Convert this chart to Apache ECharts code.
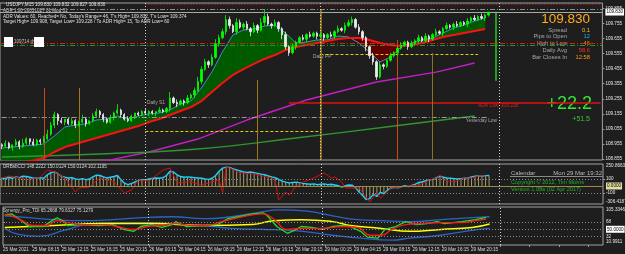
<!DOCTYPE html>
<html>
<head>
<meta charset="utf-8">
<title>USDJPY M15</title>
<script src="https://cdn.jsdelivr.net/npm/echarts@6/dist/echarts.min.js"></script>
<style>
  html, body { margin: 0; padding: 0; background: #1e1e1e; }
  #main { width: 625px; height: 254px; }
</style>
</head>
<body>
<div id="main"></div>
<script>
// K线收盘价
const closes = [
  108.94, 108.96, 108.93, 108.95, 108.97, 108.94, 108.96, 108.99, 108.97, 108.95,
  108.98, 108.97, 108.99, 109.02, 109.08, 109.15, 109.11, 109.10, 109.12, 109.09,
  109.11, 109.08, 109.10, 109.12, 109.09, 109.11, 109.14, 109.17, 109.15, 109.12,
  109.10, 109.13, 109.16, 109.18, 109.15, 109.12, 109.11, 109.14, 109.16, 109.15,
  109.17, 109.16, 109.17, 109.16, 109.17, 109.18, 109.17, 109.19, 109.26, 109.23,
  109.22, 109.24, 109.23, 109.26, 109.28, 109.31, 109.37, 109.45, 109.50, 109.48,
  109.53, 109.62, 109.66, 109.70, 109.78, 109.74, 109.70, 109.76, 109.73, 109.75,
  109.72, 109.70, 109.74, 109.71, 109.76, 109.80, 109.75, 109.74, 109.76, 109.72,
  109.68, 109.60, 109.56, 109.60, 109.63, 109.66, 109.65, 109.68, 109.67, 109.69,
  109.67, 109.68, 109.66, 109.68, 109.67, 109.70, 109.72, 109.71, 109.74, 109.76,
  109.78, 109.73, 109.70, 109.66, 109.60, 109.54, 109.50, 109.40, 109.48, 109.47,
  109.51, 109.54, 109.56, 109.59, 109.61, 109.63, 109.60, 109.62, 109.64, 109.66,
  109.64, 109.67, 109.65, 109.68, 109.70, 109.69, 109.72, 109.74, 109.73, 109.75,
  109.74, 109.76, 109.75, 109.77, 109.79, 109.78, 109.80, 109.79, 109.81, 109.83
]
const firstOpen = 108.95
// 上下影线（点）
const wickUp = [
  1,2,1,0,2,1,3,1,0,2, 1,1,2,3,2,2,1,2,0,1, 2,1,1,3,1,0,2,2,1,1, 1,2,1,4,1,1,2,1,0,1,
  1,2,1,1,0,2,1,1,4,1, 2,1,1,2,1,2,3,2,2,1, 2,3,2,2,3,2,1,3,2,1, 2,1,2,1,3,5,2,1,2,1,
  1,2,1,2,1,1,2,1,2,1, 1,2,1,1,2,1,2,1,2,2, 2,1,2,1,1,1,2,1,2,1, 1,2,1,1,2,1,1,2,1,2,
  1,2,1,1,2,1,1,2,1,1, 2,1,1,2,1,2,1,2,1,0
]
const wickDn = [
  2,1,1,2,1,2,1,1,2,1, 1,2,1,1,1,2,3,1,2,1, 1,2,1,1,2,1,1,1,2,2, 1,1,2,1,2,1,1,1,2,1,
  1,1,2,1,2,1,1,1,2,1, 2,1,2,1,1,2,1,2,1,2, 1,1,2,1,2,2,1,2,1,2, 1,3,1,2,1,2,1,2,1,2,
  3,2,2,1,2,1,1,2,1,1, 2,1,2,1,1,2,1,1,2,1, 2,1,2,2,3,2,2,2,1,2, 1,1,1,2,1,1,2,1,1,2,
  1,1,2,1,1,1,2,1,1,2, 1,1,1,2,1,1,1,1,2,1
]
// 快慢均线（每3根K线一个点）
const maStep = 3
const fastMA = [
  108.928, 108.935, 108.942, 108.948, 108.955, 109.008, 109.068, 109.081, 109.088, 109.114,
  109.121, 109.141, 109.121, 109.141, 109.154, 109.161, 109.181, 109.220, 109.240, 109.326,
  109.432, 109.565, 109.678, 109.711, 109.718, 109.737, 109.744, 109.691, 109.625, 109.631,
  109.645, 109.645, 109.671, 109.665, 109.625, 109.565, 109.499, 109.532, 109.598, 109.625,
  109.645, 109.658, 109.691, 109.724, 109.744, 109.771, 109.791
]
const slowMA = [
  108.800, 108.820, 108.835, 108.845, 108.862, 108.902, 108.935, 108.955, 108.975, 108.995,
  109.015, 109.035, 109.054, 109.074, 109.101, 109.121, 109.147, 109.174, 109.200, 109.240,
  109.300, 109.360, 109.413, 109.452, 109.486, 109.519, 109.545, 109.578, 109.598, 109.611,
  109.625, 109.638, 109.651, 109.658, 109.658, 109.645, 109.625, 109.611, 109.605, 109.611,
  109.625, 109.645, 109.665, 109.678, 109.691, 109.704, 109.718
]
// 紫线、绿线 [K线序号, 价格]
const magentaLine = [[29, 108.84], [42, 108.902], [56, 108.988], [70, 109.114], [87, 109.247], [107, 109.366], [124, 109.432], [135, 109.492]]
const greenLine = [[0, 108.869], [28, 108.889], [56, 108.922], [84, 108.995], [112, 109.074], [135, 109.141]]
// 价格刻度
const priceTicks = [109.855, 109.755, 109.655, 109.555, 109.455, 109.355, 109.255, 109.155, 109.055, 108.955, 108.855]

// CCI 柱
const cciHist = [
  115,105,125,110,130,120,140,135,125,110, 115,120,110,160,190,200,175,140,125,115,
  120,100,95,105,90,100,130,155,150,130, 115,125,135,150,90,40,20,35,60,80,
  90,85,100,110,115,110,120,150,210,200, 160,135,125,130,125,120,115,110,100,95,
  110,150,210,255,270,265,245,230,215,200, 195,200,190,180,170,160,145,130,120,95,
  70,55,45,50,55,45,35,30,25,30, 20,25,30,20,25,15,5,-15,5,15,
  10,-30,-90,-140,-195,-180,-120,-150,-90,-110, -60,-30,-20,-25,-10,5,-10,10,25,50,
  60,75,85,95,120,140,125,115,110,105, 100,105,110,115,130,140,145,140,148,150
]
const cciRed = [[0,114],[2,143],[5,114],[8,86],[11,129],[13,229],[15,200],[18,114],[21,-86],[22,-29],[25,-14],[28,114],[32,57],[35,-100],[37,-57],[39,86],[42,71],[46,229],[48,257],[50,43],[54,57],[57,14],[59,43],[62,86],[63,-100],[64,271],[65,257],[68,186],[72,171],[77,114],[78,71],[79,-200],[81,-86],[82,-129],[84,0],[86,57],[89,114],[92,186],[94,114],[95,129],[97,57],[98,-29],[102,-29],[104,-171],[105,-229],[107,-100],[108,-171],[111,-29],[114,-14],[116,0],[119,14],[122,86],[124,114],[125,157],[126,86],[129,57],[132,114],[134,114],[136,143],[138,143]]

// Synergy TDI
const tdiUpper = [[0,83.5],[7,78.7],[14,73.9],[22,71.4],[31,73.9],[39,78.7],[48,81.1],[57,76.3],[65,81.1],[72,90.8],[79,98.0],[86,95.6],[94,83.5],[101,73.9],[108,71.4],[116,69.0],[125,73.9],[134,78.7],[139,81.1]]
const tdiLower = [[0,52.1],[4,37.6],[10,32.8],[17,47.3],[25,64.2],[34,66.0],[42,66.6],[51,61.8],[57,59.4],[65,52.1],[74,49.7],[82,47.3],[94,35.2],[102,27.9],[111,23.1],[116,27.9],[125,35.2],[134,47.3],[139,52.1]]
const tdiBase = [[0,54.5],[14,59.4],[28,64.2],[42,64.2],[57,59.4],[71,61.8],[77,71.4],[85,73.9],[94,69.0],[99,59.4],[108,52.1],[116,44.9],[125,49.7],[134,54.5],[139,63.0]]
const tdiRsi = [[0,86.0],[2,88.4],[4,76.3],[7,56.9],[11,56.9],[14,73.9],[15,78.7],[17,69.0],[18,59.4],[22,61.8],[27,59.4],[31,61.8],[34,49.7],[37,44.9],[39,56.9],[42,61.8],[45,54.5],[48,61.8],[49,69.0],[52,56.9],[57,59.4],[61,61.8],[64,76.3],[67,81.1],[71,88.4],[74,90.8],[75,86.0],[78,56.9],[81,40.0],[83,47.3],[85,56.9],[88,54.5],[91,49.7],[94,56.9],[97,59.4],[99,56.9],[102,44.9],[104,30.3],[107,27.9],[109,49.7],[112,56.9],[115,69.0],[118,61.8],[121,64.2],[124,69.0],[126,64.2],[131,69.0],[135,73.9],[138,79.6]]
const tdiSignal = [[0,86.0],[2,83.5],[5,71.4],[8,59.4],[12,59.4],[15,71.4],[18,66.6],[22,61.8],[28,61.8],[32,56.9],[37,49.7],[41,56.9],[45,59.4],[49,64.2],[54,59.4],[58,59.4],[62,69.0],[67,78.7],[71,86.0],[74,88.4],[77,76.3],[81,49.7],[85,52.1],[91,52.1],[97,56.9],[101,54.5],[105,35.2],[108,35.2],[111,49.7],[115,61.8],[119,64.2],[125,66.6],[131,66.6],[135,71.4],[138,75.1]]

// 时间刻度
const timeLabels = ['25 Mar 2021', '25 Mar 08:15', '25 Mar 12:15', '25 Mar 16:15', '25 Mar 20:15',
  '26 Mar 00:15', '26 Mar 04:15', '26 Mar 08:15', '26 Mar 12:15', '26 Mar 16:15', '26 Mar 20:15',
  '29 Mar 00:15', '29 Mar 04:15', '29 Mar 08:15', '29 Mar 12:15', '29 Mar 16:15', '29 Mar 20:15']

const N = 172   // 右侧留空
const cats = Array.from({ length: N }, (_, i) => String(i))
const candles = closes.map((c, i) => {
  const o = i ? closes[i - 1] : firstOpen
  return [o, c, Math.min(o, c) - wickDn[i] / 100, Math.max(o, c) + wickUp[i] / 100]
})

const font = 'Liberation Sans, Arial, sans-serif'
const dd = [5, 2, 1, 2]   // 点划线
const noSym = { symbol: 'none', showSymbol: false }
const hidX = (g) => ({ type: 'category', gridIndex: g, data: cats, show: false, boundaryGap: true })
const rightY = (g, min, max, vals, fmt) => ({
  type: 'value', gridIndex: g, position: 'right', min: min, max: max,
  splitLine: { show: false }, axisLine: { show: false },
  axisTick: { show: true, length: 2, lineStyle: { color: '#9a9a9a' }, customValues: vals },
  axisLabel: { color: '#e6e6e6', fontSize: 4.6, margin: 3, fontFamily: font, customValues: vals, formatter: fmt }
})
const seg = (x1, y1, x2, y2, style) => [{ coord: [x1, y1], lineStyle: style }, { coord: [x2, y2] }]
const sep = { color: '#d0d0d0', type: [1, 2], width: 1 }
const daySeps = [{ xAxis: 41, lineStyle: sep }, { xAxis: 91, lineStyle: sep }, { xAxis: 142, lineStyle: sep }]
const boxLabel = (text, bg) => ({
  show: true, position: 'end', formatter: text, distance: 3,
  color: '#000', backgroundColor: bg, fontSize: 4.6, padding: [1, 1], fontFamily: font
})

// 文字
const T = (x, y, text, fill, size, align) => ({
  type: 'text', x: x, y: y, silent: true,
  style: { text: text, fill: fill, font: size + 'px ' + font, align: align || 'left', verticalAlign: 'middle' }
})
const graphics = [
  T(6, 5, 'USDJPY,M15 109.830 109.832 109.827 109.830', '#e6e6e6', 4.6),
  T(3, 11, 'ADR 1.00 20051027 01 Mod 01', '#cfcfcf', 4.6),
  T(3, 16.5, "ADR Values: 60, Reached= No, Today's Range= 46, T's High= 109.832, T's Low= 109.374", '#e0e0e0', 4.6),
  T(3, 22, 'Target High= 109.908, Target Low= 109.228 / To ADR High= 15, To ADR Low= 60', '#e0e0e0', 4.6),
  { type: 'rect', shape: { x: 4, y: 37, width: 9, height: 10 }, style: { fill: '#ffffff' }, z: 10 },
  { type: 'rect', shape: { x: 34, y: 37, width: 10, height: 10 }, style: { fill: '#ffffff' }, z: 10 },
  T(14, 42, '109714 dy', '#c0c0c0', 4.6),
  // 右侧信息
  T(590, 19, '109.830', '#ffad1f', 13.5, 'right'),
  T(567, 30, 'Spread', '#a8a8a8', 5.8, 'right'), T(590, 30, '0.1', '#f0c030', 5.8, 'right'),
  T(567, 36.5, 'Pips to Open', '#a8a8a8', 5.8, 'right'), T(590, 36.5, '12', '#1ab0f0', 5.8, 'right'),
  T(567, 43.5, 'High to Low', '#a8a8a8', 5.8, 'right'), T(590, 43.5, '46', '#ff8c00', 5.8, 'right'),
  T(567, 50.5, 'Daily Avg', '#a8a8a8', 5.8, 'right'), T(590, 50.5, '58.6', '#ff2a2a', 5.8, 'right'),
  T(567, 57, 'Bar Closes In', '#a8a8a8', 5.8, 'right'), T(590, 57, '12:58', '#ff9a1a', 5.8, 'right'),
  T(592, 104, '+22.2', '#33e633', 18, 'right'),
  T(590, 119, '+51.5', '#33cc33', 7, 'right'),
  T(313, 57, 'Daily PP', '#a8a8a8', 4.8),
  T(147, 103, 'Daily S1', '#a8a8a8', 4.8),
  T(497, 121, 'Yesterday Low', '#a8a8a8', 4.8, 'right'),
  T(478, 106, 'ADR Low  109.228', '#e02020', 4.8),
  // CCI 窗口
  T(3, 167, 'DRBsbCCI 148.2222 150.0124 150.0124 102.1195', '#d8d8d8', 4.6),
  T(511, 173, 'Calendar', '#b8b8b8', 6),
  T(602, 173, 'Mon 29 Mar 19:32', '#b8b8b8', 6, 'right'),
  { type: 'line', shape: { x1: 510, y1: 176.5, x2: 603, y2: 176.5 }, style: { stroke: '#8a8a8a', lineWidth: 1 } },
  T(511, 182, 'Copyright \u00a9 2012, Tim Morris', '#22b022', 5.6),
  T(511, 189, 'Version 1.08a (02 Apr 2017)', '#22b022', 5.6),
  T(606, 166, '250.8663', '#e6e6e6', 4.6),
  T(606, 202, '-306.4187', '#e6e6e6', 4.6),
  // Synergy 窗口
  T(3, 211, 'Synergy_Pro_TDI 65.2668 79.6327 75.1279', '#d8d8d8', 4.6),
  T(606, 210, '105.3346', '#e6e6e6', 4.6),
  T(606, 242, '10.9911', '#e6e6e6', 4.6)
]

const myChart = echarts.init(document.getElementById('main'), null, { renderer: 'canvas' })
myChart.setOption({
  backgroundColor: '#1e1e1e',
  animation: false,
  textStyle: { fontFamily: font },
  grid: [
    { left: 0, right: 22, top: 3, height: 157, show: true, borderColor: '#a0a0a0', borderWidth: 1 },
    { left: 0, right: 22, top: 164, height: 40, show: true, borderColor: '#a0a0a0', borderWidth: 1 },
    { left: 0, right: 22, top: 207, height: 38, show: true, borderColor: '#a0a0a0', borderWidth: 1 }
  ],
  xAxis: [
    hidX(0), hidX(1), hidX(2),
    {
      type: 'value', gridIndex: 2, position: 'bottom', min: 0, max: 328.2, interval: 16,
      splitLine: { show: false }, axisLine: { show: false, onZero: false },
      axisTick: { show: true, length: 2, lineStyle: { color: '#9a9a9a' } },
      axisLabel: {
        color: '#dcdcdc', fontSize: 4.6, margin: 2, align: 'left', fontFamily: font, showMaxLabel: false,
        formatter: (v) => (v % 16 === 0 && timeLabels[v / 16]) || ''
      }
    }
  ],
  yAxis: [
    rightY(0, 108.849, 109.89, priceTicks, (v) => v.toFixed(3)),
    rightY(1, -257, 314, [100, -100], (v) => String(v)),
    rightY(2, 11, 105.3, [68, 32], (v) => String(v))
  ],
  graphic: graphics,
  series: [
    // 快慢均线之间填色
    {
      type: 'custom', xAxisIndex: 0, yAxisIndex: 0, z: 1, silent: true,
      data: fastMA.map((v, k) => [k * maStep, v, slowMA[k]]),
      renderItem(params, api) {
        const k = params.dataIndex
        if (k >= fastMA.length - 1) return null
        const pts = [
          api.coord([k * maStep, fastMA[k]]),
          api.coord([(k + 1) * maStep, fastMA[k + 1]]),
          api.coord([(k + 1) * maStep, slowMA[k + 1]]),
          api.coord([k * maStep, slowMA[k]])
        ]
        const cs = params.coordSys
        const clipped = echarts.graphic.clipPointsByRect(pts, { x: cs.x, y: cs.y, width: cs.width, height: cs.height })
        const up = fastMA[k] + fastMA[k + 1] >= slowMA[k] + slowMA[k + 1]
        const c = up ? '#005a00' : '#5c0000'
        return { type: 'polygon', shape: { points: clipped }, style: { fill: c, stroke: c, lineWidth: 0.6 } }
      }
    },
    {
      type: 'line', xAxisIndex: 0, yAxisIndex: 0, z: 2, data: magentaLine, ...noSym,
      lineStyle: { color: '#c41ec4', width: 1.4 }
    },
    {
      type: 'line', xAxisIndex: 0, yAxisIndex: 0, z: 2, data: greenLine, ...noSym, smooth: true,
      lineStyle: { color: '#2f962f', width: 1.4 },
      markLine: {
        symbol: ['none', 'none'], silent: true, label: { show: false },
        data: [
          { yAxis: 109.85, lineStyle: { color: '#8c8c8c', type: dd, width: 1 } },
          { yAxis: 109.621, lineStyle: { color: '#e01818', type: dd, width: 1 } },
          { yAxis: 109.605, lineStyle: { color: '#1f9a1f', type: dd, width: 1 } },
          seg(41, 109.885, N - 1, 109.885, { color: '#e01818', type: [1, 2], width: 1 }),
          seg(0, 109.134, 139, 109.134, { color: '#9a9a9a', type: dd, width: 1 }),
          seg(91, 109.552, 136, 109.552, { color: '#e0d000', type: [3, 2], width: 1 }),
          seg(41, 109.041, 91, 109.041, { color: '#e0d000', type: [3, 2], width: 1 }),
          seg(82, 109.228, N - 1, 109.228, { color: '#e01010', type: 'solid', width: 1.5 }),
          // 竖线
          seg(12, 109.326, 12, 108.849, { color: '#c84a10', type: 'solid', width: 1 }),
          seg(22, 109.326, 22, 108.849, { color: '#a07818', type: 'solid', width: 1 }),
          seg(73, 109.379, 73, 108.849, { color: '#a07818', type: 'solid', width: 1 }),
          seg(91, 109.844, 91, 108.849, { color: '#8a6a18', type: 'solid', width: 2 }),
          seg(113, 109.645, 113, 108.849, { color: '#d04a10', type: 'solid', width: 1 }),
          seg(123, 109.558, 123, 108.849, { color: '#8a7020', type: 'solid', width: 1 }),
          seg(141, 109.832, 141, 109.374, { color: '#22cc22', type: 'solid', width: 1.5 })
        ].concat(daySeps)
      }
    },
    {
      type: 'line', xAxisIndex: 0, yAxisIndex: 0, z: 3, ...noSym,
      data: fastMA.map((v, k) => [k * maStep, v]),
      lineStyle: { color: '#3d8fc4', width: 1 }
    },
    {
      type: 'line', xAxisIndex: 0, yAxisIndex: 0, z: 3, ...noSym,
      data: slowMA.map((v, k) => [k * maStep, v]),
      lineStyle: { color: '#ff1010', width: 2 }
    },
    {
      type: 'candlestick', xAxisIndex: 0, yAxisIndex: 0, z: 5, barWidth: 1.8, data: candles,
      itemStyle: { color: '#00ff00', color0: '#eeeeee', borderColor: '#00ff00', borderColor0: '#eeeeee', borderWidth: 0.8 },
      markLine: {
        symbol: ['none', 'none'], silent: true,
        data: [{ yAxis: 109.832, lineStyle: { color: '#a8a8a8', type: 'solid', width: 1 }, label: boxLabel('109.830', '#ffffff') }]
      }
    },
    // CCI
    {
      type: 'bar', xAxisIndex: 1, yAxisIndex: 1, z: 2, barWidth: 1, data: cciHist,
      itemStyle: { color: '#a89968' },
      markLine: {
        symbol: ['none', 'none'], silent: true, label: { show: false },
        data: [
          { yAxis: 0, lineStyle: { color: '#9a8a48', type: 'solid', width: 1 }, label: boxLabel('0.0000', '#e4dca0') },
          { yAxis: 100, lineStyle: { color: '#8a8a8a', type: [1, 2], width: 1 } },
          { yAxis: -100, lineStyle: { color: '#8a8a8a', type: [1, 2], width: 1 } }
        ].concat(daySeps)
      }
    },
    {
      type: 'line', xAxisIndex: 1, yAxisIndex: 1, z: 3, data: cciHist, ...noSym,
      lineStyle: { color: '#1ad2ff', width: 1.4 }
    },
    {
      type: 'line', xAxisIndex: 1, yAxisIndex: 1, z: 4, data: cciRed, ...noSym,
      lineStyle: { color: '#d01010', width: 1 }
    },
    // Synergy TDI
    {
      type: 'line', xAxisIndex: 2, yAxisIndex: 2, z: 2, data: tdiUpper, ...noSym, smooth: true,
      lineStyle: { color: '#2a64c8', width: 1.3 },
      markLine: {
        symbol: ['none', 'none'], silent: true, label: { show: false },
        data: [
          { yAxis: 68, lineStyle: { color: '#8a8a8a', type: [1, 2], width: 1 } },
          { yAxis: 50, lineStyle: { color: '#8a8a8a', type: [1, 2], width: 1 }, label: boxLabel('50.0000', '#ffffff') },
          { yAxis: 32, lineStyle: { color: '#8a8a8a', type: [1, 2], width: 1 } }
        ].concat(daySeps)
      }
    },
    {
      type: 'line', xAxisIndex: 2, yAxisIndex: 2, z: 2, data: tdiLower, ...noSym, smooth: true,
      lineStyle: { color: '#2a64c8', width: 1.3 }
    },
    {
      type: 'line', xAxisIndex: 2, yAxisIndex: 2, z: 3, data: tdiBase, ...noSym, smooth: true,
      lineStyle: { color: '#ffff00', width: 1.5 }
    },
    {
      type: 'line', xAxisIndex: 2, yAxisIndex: 2, z: 4, data: tdiRsi, ...noSym,
      lineStyle: { color: '#1ee01e', width: 1.3 }
    },
    {
      type: 'line', xAxisIndex: 2, yAxisIndex: 2, z: 5, data: tdiSignal, ...noSym, smooth: true,
      lineStyle: { color: '#ff1a1a', width: 1.3 }
    }
  ]
})
</script>
</body>
</html>
